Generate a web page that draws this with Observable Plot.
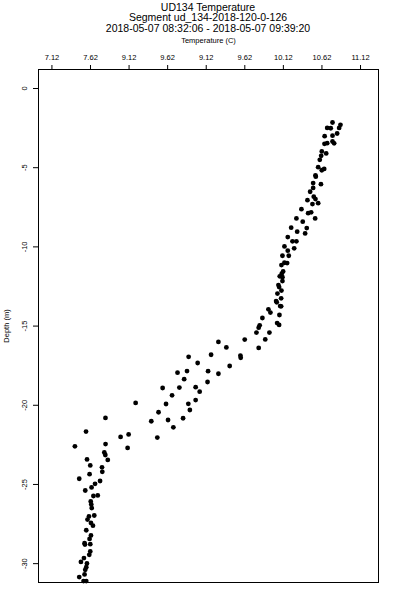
<!DOCTYPE html>
<html>
<head>
<meta charset="utf-8">
<script src="https://cdn.jsdelivr.net/npm/d3@7"></script>
<script src="https://cdn.jsdelivr.net/npm/@observablehq/plot@0.6"></script>
<style>
  html, body { margin: 0; padding: 0; background: #fff; }
  body { width: 400px; font-family: "Liberation Sans", Arial, Helvetica, sans-serif; color: #000; }
  #title { box-sizing: border-box; height: 34px; padding-left: 38px; width: 400px; padding-right: 22px; text-align: center; }
  #title div { height: 10.7px; line-height: 10.7px; font-size: 10.5px; white-space: nowrap; }
  #title div:first-child { margin-top: 1.5px; }
</style>
</head>
<body>
<div id="title">
  <div>UD134 Temperature</div>
  <div>Segment ud_134-2018-120-0-126</div>
  <div>2018-05-07 08:32:06 - 2018-05-07 09:39:20</div>
</div>
<div id="chart"></div>
<script>
const titleX = "Temperature (C)";
const titleY = "Depth (m)";

const temperature = [
  10.757, 10.86, 10.688, 10.734, 10.843, 10.817, 10.655, 10.757, 10.653, 10.688,
  10.757, 10.778, 10.618, 10.675, 10.61, 10.592, 10.571, 10.649, 10.618, 10.536,
  10.540, 10.506, 10.607, 10.506, 10.467, 10.514, 10.536, 10.432, 10.571, 10.497,
  10.354, 10.480, 10.441, 10.532, 10.289, 10.371, 10.221, 10.423, 10.299, 10.402,
  10.177, 10.238, 10.289, 10.134, 10.260, 10.177, 10.190, 10.108, 10.134, 10.169,
  10.095, 10.117, 10.099, 10.073, 10.108, 10.108, 10.056, 10.065, 10.095, 10.043,
  10.091, 10.026, 10.034, 10.078, 10.091, 9.926, 9.952, 10.069, 9.848, 10.039,
  10.065, 9.813, 9.800, 9.771, 9.939, 9.885, 9.619, 9.278, 9.381, 9.800,
  9.183, 9.563, 9.567, 8.892, 9.009, 9.424, 8.871, 9.144, 8.748, 9.278,
  8.834, 9.137, 8.555, 8.772, 8.983, 9.035, 8.677, 8.983, 8.205, 8.599,
  8.888, 8.502, 8.908, 7.814, 8.408, 8.625, 8.820, 8.694, 7.562, 8.114,
  8.010, 8.486, 7.418, 7.815, 8.101, 7.799, 7.812, 7.844, 7.575, 7.617,
  7.769, 7.773, 7.608, 7.474, 7.744, 7.679, 7.634, 7.552, 7.714, 7.658,
  7.623, 7.630, 7.636, 7.600, 7.669, 7.581, 7.626, 7.652, 7.565, 7.626,
  7.608, 7.543, 7.548, 7.617, 7.617, 7.604, 7.535, 7.496, 7.574, 7.565,
  7.552, 7.543, 7.474, 7.530, 7.565
];
const depth = [
  -2.145, -2.29, -2.49, -2.51, -2.49, -2.84, -3.01, -2.98, -3.49, -3.45,
  -3.34, -3.46, -3.97, -4.10, -4.25, -4.50, -4.97, -5.08, -5.16, -5.48,
  -5.57, -5.97, -6.04, -6.28, -6.52, -6.83, -6.98, -7.05, -7.24, -7.30,
  -7.62, -7.82, -7.87, -8.20, -8.20, -8.41, -8.79, -8.81, -9.04, -9.15,
  -9.38, -9.65, -9.65, -9.97, -10.09, -10.24, -10.56, -10.56, -11.00, -11.02,
  -11.15, -11.55, -11.69, -11.86, -11.91, -12.16, -12.41, -12.54, -12.76, -12.95,
  -13.25, -13.42, -13.50, -13.74, -13.75, -13.94, -14.15, -14.30, -14.49, -14.81,
  -14.93, -14.95, -15.10, -15.41, -15.41, -15.84, -15.85, -16.00, -16.35, -16.38,
  -16.81, -16.86, -17.00, -16.94, -17.33, -17.52, -17.84, -17.85, -17.94, -18.01,
  -18.35, -18.53, -18.91, -18.88, -18.86, -19.14, -19.37, -19.67, -19.85, -19.92,
  -19.91, -20.44, -20.30, -20.80, -21.01, -20.93, -20.82, -21.39, -21.66, -21.84,
  -22.00, -22.04, -22.59, -22.45, -22.69, -22.98, -23.14, -23.45, -23.42, -23.80,
  -23.92, -24.20, -24.35, -24.64, -24.78, -24.96, -25.19, -25.38, -25.69, -25.73,
  -26.07, -26.26, -26.49, -27.02, -26.96, -27.22, -27.43, -27.60, -27.89, -28.22,
  -28.44, -28.71, -28.79, -28.77, -29.23, -29.44, -29.65, -29.89, -29.99, -30.22,
  -30.39, -30.68, -30.85, -31.10, -31.10
];

const xTicks = [7.12, 7.62, 8.12, 8.62, 9.12, 9.62, 10.12, 10.62, 11.12];
const xTickLabels = ["7.12", "7.62", "9.12", "9.62", "9.12", "9.62", "10.12", "10.62", "11.12"];
const yTicks = [0, -5, -10, -15, -20, -25, -30];
const yTickLabels = ["0", "-5", "-10", "-15", "-20", "-25", "-30"];

const points = temperature.map((t, i) => ({temperature: t, depth: depth[i]}));
const xLabelMap = new Map(xTicks.map((v, i) => [v, xTickLabels[i]]));
const yTickData = yTicks.map((v, i) => ({v, label: yTickLabels[i]}));

const chart = Plot.plot({
  width: 400,
  height: 566,
  marginLeft: 38,
  marginRight: 22,
  marginTop: 33,
  marginBottom: 20,
  style: {
    fontFamily: "'Liberation Sans', Arial, Helvetica, sans-serif",
    fontSize: "7.5px",
    background: "#fff",
    color: "#000"
  },
  x: {domain: [6.946, 11.353]},
  y: {domain: [-31.19, 1.2]},
  marks: [
    Plot.frame({stroke: "#000", strokeWidth: 1}),
    Plot.axisX({
      anchor: "top",
      ticks: xTicks,
      tickFormat: d => xLabelMap.get(d),
      tickSize: 5,
      tickPadding: 5,
      label: null,
      fontSize: 7.5,
      fill: "#000"
    }),
    Plot.axisY({
      anchor: "left",
      ticks: yTicks,
      tickFormat: () => "",
      tickSize: 5,
      label: null
    }),
    Plot.text(yTickData, {
      y: "v",
      text: "label",
      frameAnchor: "left",
      dx: -14,
      rotate: -90,
      textAnchor: "middle",
      lineAnchor: "middle",
      fontSize: 7.5,
      fill: "#000"
    }),
    Plot.text([titleX], {
      text: d => d,
      frameAnchor: "top",
      dy: -28.5,
      lineAnchor: "middle",
      fontSize: 7.5,
      fill: "#000"
    }),
    Plot.text([titleY], {
      text: d => d,
      frameAnchor: "left",
      dx: -32,
      rotate: -90,
      textAnchor: "middle",
      lineAnchor: "middle",
      fontSize: 7.5,
      fill: "#000"
    }),
    Plot.dot(points, {
      x: "temperature",
      y: "depth",
      r: 2.4,
      fill: "#000",
      stroke: "none"
    })
  ]
});
document.getElementById("chart").appendChild(chart);
</script>
</body>
</html>
